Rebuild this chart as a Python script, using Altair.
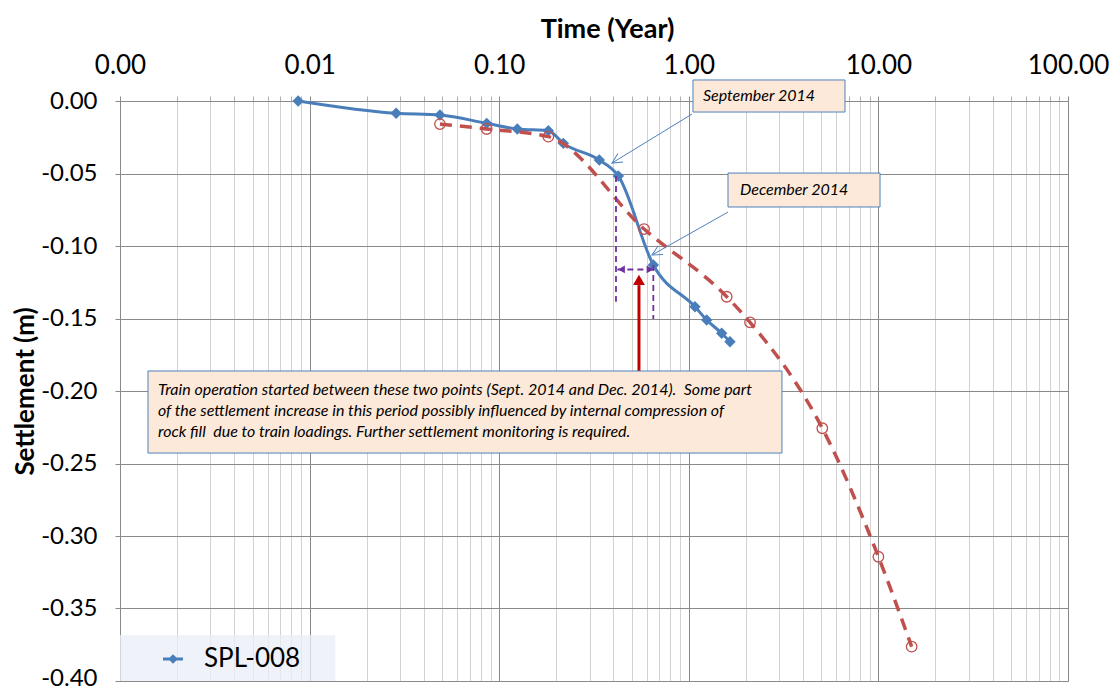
import altair as alt
import pandas as pd

# ---------------- data ----------------
spl_t = [0.0087, 0.0286, 0.0487, 0.0859, 0.1246, 0.1816, 0.2178, 0.3373, 0.4250, 0.6500, 1.078, 1.243, 1.491, 1.649]
spl_s = [0.0, -0.0085, -0.0097, -0.0154, -0.0193, -0.0205, -0.0292, -0.0407, -0.0517, -0.1131, -0.1419, -0.1510, -0.1602, -0.1660]

pred_t = [0.0487, 0.0859, 0.1816, 0.581, 1.585, 2.103, 5.06, 10.0, 14.98]
pred_s = [-0.0159, -0.0193, -0.0246, -0.0883, -0.1350, -0.1526, -0.2257, -0.3143, -0.3763]

x_major = [0.001, 0.01, 0.1, 1, 10, 100]
x_minor = [m * 10.0 ** e for e in range(-3, 2) for m in range(2, 10)]
y_ticks = [0.0, -0.05, -0.10, -0.15, -0.20, -0.25, -0.30, -0.35, -0.40]

note_lines = [
    "Train operation started between these two points (Sept. 2014 and Dec. 2014).\u00a0 Some part",
    "of the settlement increase in this period possibly influenced by internal compression of",
    "rock fill \u00a0due to train loadings. Further settlement monitoring is required.",
]

FONT = "Lato"
BLUE = "#4a7ebb"
RED = "#c0504d"
PURPLE = "#7030a0"
DARKRED = "#c00000"
BOXFILL = "#fde9d9"
BOXLINE = "#4f81bd"

xscale = alt.Scale(type="log", domain=[0.001, 100], nice=False)
yscale = alt.Scale(domain=[-0.40, 0.0], nice=False, zero=False)

major_test = "abs(log(datum.value)/LN10 - round(log(datum.value)/LN10)) < 0.000001"

x_axis = alt.Axis(
    orient="top", values=sorted(x_major + x_minor), title="Time (Year)",
    labelExpr="(" + major_test + ") ? format(datum.value, '.2f') : ''",
    labelFont=FONT, labelFontSize=26, labelColor="black", labelPadding=18,
    labelOverlap=False, labelFlush=False,
    titleFont=FONT, titleFontSize=27, titleFontWeight="bold", titleColor="black",
    titleX=487, titleY=-64, titleBaseline="alphabetic",
    grid=True, gridWidth=1,
    gridColor={"condition": {"test": major_test, "value": "#8a8a8a"}, "value": "#d2d2d2"},
    tickColor={"condition": {"test": major_test, "value": "#8a8a8a"}, "value": "#b0b0b0"},
    tickSize=5, domainColor="#8a8a8a",
)
y_axis = alt.Axis(
    orient="left", values=y_ticks, title="Settlement (m)",
    labelExpr="datum.value < 0 ? '-' + format(-datum.value, '.2f') : format(datum.value, '.2f')",
    labelFont=FONT, labelFontSize=24, labelColor="black", labelPadding=18,
    labelBaseline={"condition": {"test": "datum.value < -0.39", "value": "bottom"}, "value": "middle"},
    labelOffset={"condition": {"test": "datum.value < -0.39", "value": 9}, "value": 0},
    titleFont=FONT, titleFontSize=26, titleFontWeight="bold", titleColor="black",
    titleX=-95, titleY=290, titleBaseline="middle", titleAngle=270,
    grid=True, gridColor="#8a8a8a", gridWidth=1,
    tickSize=5, tickColor="#8a8a8a", domainColor="#8a8a8a",
)

spl = pd.DataFrame({"t": spl_t, "s": spl_s, "series": ["SPL-008"] * len(spl_t)})
pred = pd.DataFrame({"t": pred_t, "s": pred_s})


def X(f="t"):
    return alt.X(f, type="quantitative", scale=xscale, axis=x_axis)


def Y(f="s"):
    return alt.Y(f, type="quantitative", scale=yscale, axis=y_axis)


# legend background
legend_bg = alt.Chart(pd.DataFrame({"t": [0.001], "t2": [0.01365], "s": [-0.3683], "s2": [-0.40]})).mark_rect(
    fill="#e9eef7", opacity=0.75
).encode(x=X("t"), x2="t2", y=Y("s"), y2="s2")

blue_line = alt.Chart(spl).mark_line(
    strokeWidth=3, interpolate="monotone",
    point=alt.OverlayMarkDef(shape="diamond", filled=True, size=130),
).encode(
    x=X(), y=Y(),
    color=alt.Color("series:N", scale=alt.Scale(domain=["SPL-008"], range=[BLUE]),
                    legend=alt.Legend(
                        title=None, orient="none", legendX=40, legendY=545,
                        symbolType="M-2,0H2M0,-0.55L0.55,0L0,0.55L-0.55,0Z",
                        symbolSize=100, symbolStrokeWidth=3,
                        symbolFillColor=BLUE, symbolStrokeColor=BLUE,
                        labelFont=FONT, labelFontSize=26, labelColor="black",
                        labelOffset=18, padding=0,
                    )),
)

red_line = alt.Chart(pred).mark_line(
    color=RED, strokeWidth=3.5, strokeDash=[12, 8], interpolate="monotone"
).encode(x=X(), y=Y())
red_pts = alt.Chart(pred).mark_point(
    shape="circle", filled=False, color=RED, size=110, strokeWidth=1.3, opacity=1
).encode(x=X(), y=Y())

# purple dashed markers and double arrow
purple_v = alt.Chart(pd.DataFrame({"t": [0.413, 0.650], "s": [-0.0517, -0.1131], "s2": [-0.1384, -0.1503]})).mark_rule(
    color=PURPLE, strokeWidth=1.8, strokeDash=[6, 4]
).encode(x=X(), y=Y(), y2="s2")
purple_h = alt.Chart(pd.DataFrame({"t": [0.420], "t2": [0.640], "s": [-0.1162]})).mark_rule(
    color=PURPLE, strokeWidth=1.8, strokeDash=[6, 4]
).encode(x=X(), x2="t2", y=Y())
purple_heads = alt.Chart(pd.DataFrame({"t": [0.4416, 0.6243], "s": [-0.1162, -0.1162],
                                       "shape": ["triangle-left", "triangle-right"]})).mark_point(
    filled=True, color=PURPLE, size=60, opacity=1
).encode(x=X(), y=Y(), shape=alt.Shape("shape:N", scale=None, legend=None))

# red arrow
red_arrow = alt.Chart(pd.DataFrame({"t": [0.546], "s": [-0.1862], "s2": [-0.127]})).mark_rule(
    color=DARKRED, strokeWidth=3
).encode(x=X(), y=Y(), y2="s2")
red_head = alt.Chart(pd.DataFrame({"t": [0.546], "s": [-0.1234]})).mark_point(
    shape="triangle-up", filled=True, color=DARKRED, size=140, opacity=1
).encode(x=X(), y=Y())

# callouts
call_lines = alt.Chart(pd.DataFrame({"t": [1.040, 1.61], "s": [-0.0090, -0.0766],
                                     "t2": [0.3934, 0.6393], "s2": [-0.0428, -0.1062]})).mark_rule(
    color=BOXLINE, strokeWidth=1
).encode(x=X(), y=Y(), x2="t2", y2="s2")
call_heads = alt.Chart(pd.DataFrame({"t": [0.3934, 0.6393], "s": [-0.0428, -0.1062], "ang": [238.5, 240.5]})).mark_point(
    shape="M-0.5,1L0,0L0.5,1", filled=False, color=BOXLINE, size=400, strokeWidth=1, opacity=1
).encode(x=X(), y=Y(), angle=alt.Angle("ang:Q", scale=None))

boxes = alt.Chart(pd.DataFrame({
    "t": [1.052, 1.61, 0.001405], "t2": [6.665, 10.2, 3.10],
    "s": [0.0145, -0.0497, -0.1862], "s2": [-0.0076, -0.0731, -0.2428],
})).mark_rect(fill=BOXFILL, stroke=BOXLINE, strokeWidth=1).encode(x=X(), x2="t2", y=Y(), y2="s2")

small_text = alt.Chart(pd.DataFrame({"t": [1.188, 1.862], "s": [0.0034, -0.0614],
                                     "txt": ["September 2014", "December 2014"]})).mark_text(
    font=FONT, fontStyle="italic", fontSize=16, align="left", baseline="middle", color="black"
).encode(x=X(), y=Y(), text="txt:N")

note_text = alt.Chart(pd.DataFrame({"t": [0.001586] * 3, "s": [-0.1990, -0.2138, -0.2286],
                                    "txt": note_lines})).mark_text(
    font=FONT, fontStyle="italic", fontSize=16, align="left", baseline="middle", color="black"
).encode(x=X(), y=Y(), text="txt:N")

chart = alt.layer(
    legend_bg, blue_line, red_line, red_pts,
    purple_v, purple_h, purple_heads, red_arrow, red_head,
    call_lines, call_heads, boxes, small_text, note_text,
).properties(
    width=948, height=580,
    autosize=alt.AutoSizeParams(type="none"),
    padding={"left": 120, "top": 101, "right": 44, "bottom": 10},
    background="white",
).configure_view(stroke="#5b87c5", strokeWidth=1)

chart.save("out.html", embed_options={"renderer": "svg", "actions": False})
